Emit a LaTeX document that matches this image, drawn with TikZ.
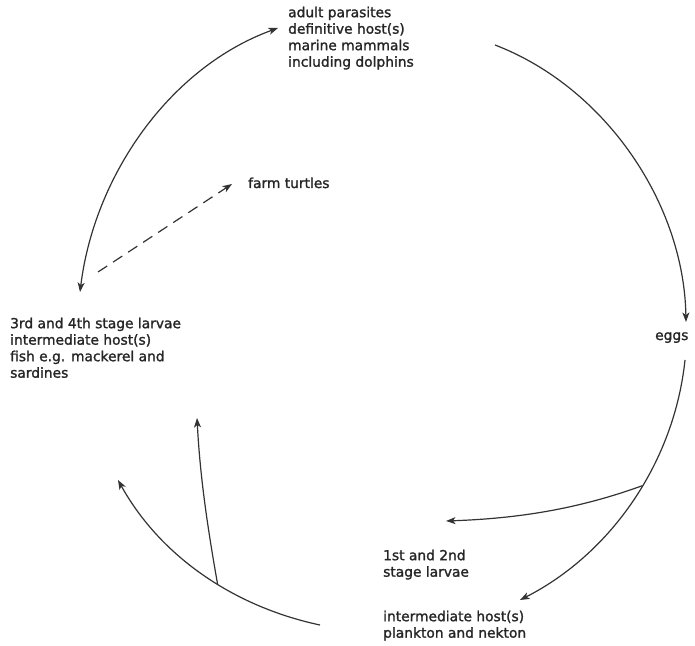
\documentclass[tikz,border=0pt]{standalone}
\usepackage{fontspec}
\setmainfont{DejaVu Sans}[FakeBold=1.5]
\usetikzlibrary{arrows.meta}
\tikzset{
  >={Stealth[length=9.5pt,width=7pt,inset=2.5pt]},
  lbl/.style={inner sep=0pt, align=left, text=black!85, font=\fontsize{13.8}{16.5}\selectfont},
  cyc/.style={->, line width=1.2pt, draw=black!80, looseness=0.9},
  side/.style={->, line width=1.2pt, draw=black!80, dash pattern=on 11pt off 7pt}
}
\begin{document}
\begin{tikzpicture}[x=1pt,y=1pt]
    \useasboundingbox (0,0) rectangle (695,645);

    \node[lbl, anchor=north west] (adult) at (288,638.5) {adult parasites\\definitive host(s)\\marine mammals\\including dolphins};
    \node[lbl, anchor=base west] (turtles) at (248,457) {farm turtles};
    \node[lbl, anchor=north west] (fish) at (10,327.5) {3rd and 4th stage larvae\\intermediate host(s)\\fish e.g. mackerel and\\sardines};
    \node[lbl, anchor=base west] (eggs) at (655,305) {eggs};
    \node[lbl, anchor=north west] (larvae) at (383,95.5) {1st and 2nd\\stage larvae};
    \node[lbl, anchor=north west] (plankton) at (383,34.5) {intermediate host(s)\\plankton and nekton};
    \coordinate (lost) at (118,165);

    % life cycle round the circle
    \draw[cyc, <->] ([shift={(70,25.5)}]fish.north west) to[out=83, in=200] ([shift={(-10,-21.5)}]adult.north west);
    \draw[cyc] ([shift={(207,-38.5)}]adult.north west) to[out=-21, in=91] ([shift={(31,18)}]eggs.base west);
    \draw[cyc] ([shift={(30,-20)}]eggs.base west) to[out=-96, in=27] coordinate[pos=0.44] (forkR) ([shift={(137,10.5)}]plankton.north west);
    \draw[cyc] (forkR) to[out=200, in=2] ([shift={(63,28.5)}]larvae.north west);
    \draw[cyc] ([shift={(-63,-14.5)}]plankton.north west) to[out=168, in=-61] coordinate[pos=0.43] (forkL) (lost);
    \draw[cyc] (forkL) to[out=100, in=-87] ([shift={(187,-100.5)}]fish.north west);

    % side route
    \draw[side] ([shift={(88,45.5)}]fish.north west) -- ([shift={(-16,4)}]turtles.base west);
\end{tikzpicture}
\end{document}
